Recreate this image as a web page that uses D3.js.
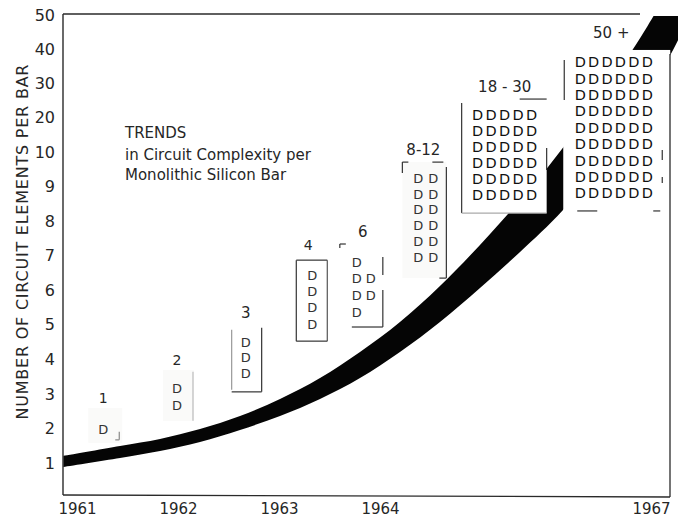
<!DOCTYPE html>
<html>
<head>
<meta charset="utf-8">
<script src="https://cdn.jsdelivr.net/npm/d3@7"></script>
<style>
  html, body { margin: 0; padding: 0; background: #fff; }
  svg { display: block; }
  text { font-family: "DejaVu Sans", "Open Sans", sans-serif; fill: #262626; }
</style>
</head>
<body>
<svg id="chart" width="683" height="518"></svg>
<script>
// ---- Axis ticks ----
const yTicks = [1, 2, 3, 4, 5, 6, 7, 8, 9, 10, 20, 30, 40, 50];
const xTicks = [1961, 1962, 1963, 1964, 1967];

// ---- Growth band (year, circuit elements per bar) ----
const bandUpperYears  = [1960.861, 1961.426, 1961.822, 1962.218, 1962.614, 1963.010, 1963.406, 1963.802, 1964.221, 1964.664, 1965.218, 1965.860, 1966.436, 1966.845, 1967.100];
const bandUpperValues = [1.203, 1.492, 1.695, 1.984, 2.360, 2.852, 3.460, 4.212, 5.080, 6.122, 7.627, 9.566, 26.06, 41.82, 52.92];
const bandLowerYears  = [1960.861, 1961.426, 1961.822, 1962.218, 1962.614, 1963.010, 1963.406, 1963.802, 1964.221, 1964.664, 1965.107, 1965.550, 1966.026, 1966.657, 1967.244, 1967.432];
const bandLowerValues = [0.884, 1.145, 1.347, 1.608, 1.955, 2.360, 2.852, 3.460, 4.212, 5.080, 6.064, 7.106, 8.321, 13.50, 39.78, 50.0];

// ---- Element groups: label, where the label sits (year, value), rows of elements ----
const groupLabels = ["1", "2", "3", "4", "6", "8-12", "18 - 30", "50 +"];
const groupYears  = [1961.26, 1961.99, 1962.67, 1963.29, 1963.83, 1964.48, 1965.38, 1966.56];
const groupLevels = [2.74, 3.84, 5.20, 7.16, 7.54, 9.91, 27.5, 43.3];
const groupRows = [
  ["D"],
  ["D", "D"],
  ["D", "D", "D"],
  ["D", "D", "D", "D"],
  ["D ", "DD", "DD", "D "],
  ["DD", "DD", "DD", "DD", "DD", "DD"],
  ["DDDDD", "DDDDD", "DDDDD", "DDDDD", "DDDDD", "DDDDD"],
  ["DDDDDD", "DDDDDD", "DDDDDD", "DDDDDD", "DDDDDD", "DDDDDD", "DDDDDD", "DDDDDD", "DDDDDD"]
];

const titleLines = ["TRENDS", "in Circuit Complexity per", "Monolithic Silicon Bar"];
const yTitle = "NUMBER OF CIRCUIT ELEMENTS PER BAR";

// ---- Layout of each group, in pixels relative to its label ----
// box: [left, top, right, bottom]; marks: bracket strokes [x1, y1, x2, y2, colour]
const groupLayout = [
  { size: 13, lsize: 14, gx: 0,   gy: 26, rowStep: 17,   colStep: 14,   dfill: "#333", fill: "#fafaf9",
    box: [-15, 5, 19, 40],   marks: [[16, 29, 16, 37, "#888"], [12, 37, 16, 37, "#888"]] },
  { size: 13, lsize: 14, gx: 0,   gy: 23, rowStep: 17,   colStep: 14,   dfill: "#333", fill: "#fafaf9",
    box: [-14, 5, 17, 56],   marks: [[16, 7, 16, 56, "#bbb"]] },
  { size: 13, lsize: 15, gx: 0,   gy: 24, rowStep: 15.5, colStep: 14,   dfill: "#333", fill: "#fff",
    box: [-14, 10, 16, 75],  marks: [[-14, 12, -14, 72, "#999"], [16, 10, 16, 74, "#333"], [-14, 74, 16, 74, "#333"]] },
  { size: 13, lsize: 14, gx: 4,   gy: 25, rowStep: 16.3, colStep: 14,   dfill: "#333", fill: "#fff",
    box: [-12, 10, 19, 91],  marks: [[-12, 10, -12, 91, "#333"], [19, 10, 19, 91, "#555"], [-12, 10, 19, 10, "#333"], [-12, 91, 19, 91, "#333"]] },
  { size: 13, lsize: 15, gx: 1,   gy: 25, rowStep: 16.7, colStep: 14,   dfill: "#333", fill: "#fff",
    box: [-23, 7, 20, 90],   marks: [[-23, 7, -17, 7, "#333"], [-23, 7, -23, 11, "#333"], [20, 20, 20, 38, "#333"], [20, 53, 20, 90, "#333"], [-11, 90, 20, 90, "#333"]] },
  { size: 13, lsize: 15, gx: 2.5, gy: 23, rowStep: 15.8, colStep: 15,   dfill: "#333", fill: "#fafaf9",
    box: [-21, 7, 23, 123],  marks: [[-21, 7, -15, 7, "#333"], [9, 7, 20, 7, "#333"], [-21, 7, -21, 18, "#333"], [23, 12, 23, 123, "#333"], [16, 123, 23, 123, "#333"]] },
  { size: 14.5, lsize: 15, gx: 0,   gy: 23, rowStep: 16,   colStep: 13.5, dfill: "#111", fill: "#fff",
    box: [-43, 7, 42, 121],  marks: [[15, 7, 42, 7, "#333"], [-43, 11, -43, 121, "#333"], [-43, 121, 42, 121, "#aaa"], [42, 56, 42, 78, "#333"]] },
  { size: 14.5, lsize: 15, gx: 2.5, gy: 24, rowStep: 16.4, colStep: 13.4, dfill: "#111", fill: "#fff",
    box: [-48, 12, 59, 177], marks: [[-47, 22, -47, 62, "#333"], [-34, 173, -14, 173, "#333"], [42, 173, 49, 173, "#333"], [51, 112, 51, 122, "#333"], [51, 139, 51, 145, "#333"]] }
];

// ---- Scales (broken scales: 1-10 by ones, 10-50 by tens; years compressed after 1964) ----
const x = d3.scaleLinear().domain([1961, 1964, 1967]).range([77, 380, 651]);
const y = d3.scaleLinear().domain([1, 10, 50]).range([463, 152, 15]);

const frame = { left: x(1961) - 14, right: 670, top: y(50) - 1, bottom: 495 };

const svg = d3.select("#chart");
svg.append("rect").attr("width", 683).attr("height", 518).attr("fill", "#fff");

// ---- Growth band ----
svg.append("clipPath").attr("id", "plotClip")
  .append("rect")
  .attr("x", frame.left).attr("y", frame.top + 2)
  .attr("width", 678 - frame.left).attr("height", frame.bottom - frame.top);

const edge = d3.line().x(d => x(d[0])).y(d => y(d[1])).curve(d3.curveCatmullRom.alpha(0.5));
const upperPts = bandUpperYears.map((yr, i) => [yr, bandUpperValues[i]]);
const lowerPts = bandLowerYears.map((yr, i) => [yr, bandLowerValues[i]]).reverse();
const bandPath = edge(upperPts) + "L" + edge(lowerPts).slice(1) + "Z";

svg.append("path")
  .attr("d", bandPath)
  .attr("fill", "#050505")
  .attr("clip-path", "url(#plotClip)");

// ---- Element groups ----
const groups = svg.append("g").selectAll("g")
  .data(groupLabels.map((label, i) => ({ label, year: groupYears[i], level: groupLevels[i], rows: groupRows[i], lay: groupLayout[i] })))
  .join("g")
  .attr("transform", d => `translate(${x(d.year)},${y(d.level)})`);

groups.append("rect")
  .attr("x", d => d.lay.box[0])
  .attr("y", d => d.lay.box[1])
  .attr("width", d => d.lay.box[2] - d.lay.box[0])
  .attr("height", d => d.lay.box[3] - d.lay.box[1])
  .attr("fill", d => d.lay.fill);

groups.append("text")
  .attr("text-anchor", "middle")
  .attr("font-size", d => d.lay.lsize)
  .text(d => d.label);

groups.each(function (d) {
  const g = d3.select(this);
  const L = d.lay;
  const ncol = d3.max(d.rows, r => r.length);
  // one text block per group, one line per row, each letter placed in its column
  const block = g.append("text")
    .attr("text-anchor", "middle")
    .attr("font-size", L.size)
    .style("fill", L.dfill);
  d.rows.forEach((row, r) => {
    const cols = [];
    row.split("").forEach((ch, c) => { if (ch !== " ") cols.push(c); });
    block.append("tspan")
      .attr("x", cols.map(c => (L.gx + (c - (ncol - 1) / 2) * L.colStep).toFixed(1)).join(" "))
      .attr("y", (L.gy + r * L.rowStep + L.size * 0.36).toFixed(1))
      .text(cols.map(() => "D").join(""));
  });
  g.selectAll("line.mk")
    .data(L.marks)
    .join("line")
    .attr("class", "mk")
    .attr("x1", m => m[0]).attr("y1", m => m[1])
    .attr("x2", m => m[2]).attr("y2", m => m[3])
    .attr("stroke", m => m[4])
    .attr("stroke-width", 1.2);
});

// ---- Frame ----
const frameG = svg.append("g").attr("stroke", "#2a2a2a").attr("fill", "none");
frameG.append("line").attr("x1", frame.left).attr("y1", frame.top).attr("x2", frame.left).attr("y2", frame.bottom).attr("stroke-width", 1.6).attr("stroke", "#444");
frameG.append("line").attr("x1", frame.left).attr("y1", frame.top).attr("x2", frame.right - 30).attr("y2", frame.top).attr("stroke-width", 1.3);
frameG.append("line").attr("x1", frame.right).attr("y1", frame.top + 40).attr("x2", frame.right).attr("y2", frame.bottom + 2).attr("stroke-width", 1.3);
frameG.append("line").attr("x1", frame.left).attr("y1", frame.bottom).attr("x2", frame.right).attr("y2", frame.bottom + 2).attr("stroke-width", 1.3);

// ---- Axes ----
const yAxis = svg.append("g")
  .attr("transform", `translate(${frame.left},0)`)
  .call(d3.axisLeft(y).tickValues(yTicks).tickSize(0).tickPadding(8).tickFormat(d3.format("d")));
yAxis.select(".domain").remove();
yAxis.selectAll("text").attr("font-size", 16).attr("font-family", null).style("fill", "#262626");

const xAxis = svg.append("g")
  .attr("transform", `translate(0,${frame.bottom})`)
  .call(d3.axisBottom(x).tickValues(xTicks).tickSize(0).tickPadding(8).tickFormat(d3.format("d")));
xAxis.select(".domain").remove();
xAxis.selectAll("text").attr("font-size", 15).attr("font-family", null).style("fill", "#262626");

svg.append("text")
  .attr("transform", "translate(22,242) rotate(-90)")
  .attr("text-anchor", "middle")
  .attr("dy", "0.35em")
  .attr("font-size", 16)
  .attr("textLength", 355)
  .attr("lengthAdjust", "spacing")
  .text(yTitle);

// ---- Title block ----
svg.append("g").selectAll("text")
  .data(titleLines)
  .join("text")
  .attr("x", 125)
  .attr("y", (d, i) => [138, 160, 180][i])
  .attr("font-size", 15)
  .text(d => d);
</script>
</body>
</html>
